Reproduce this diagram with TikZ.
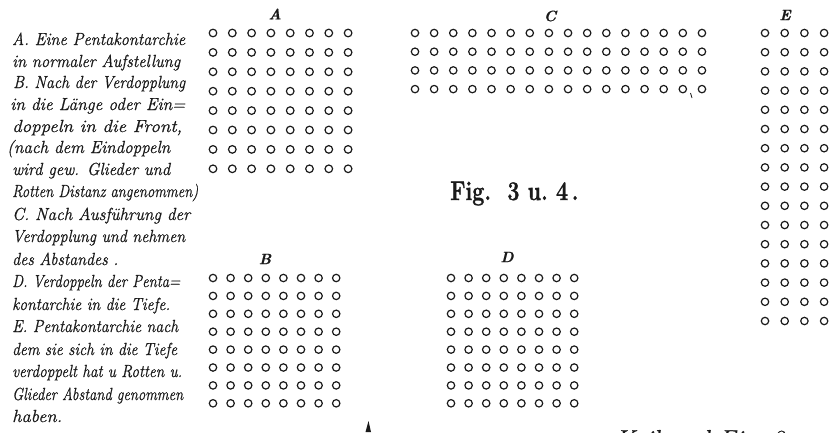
\documentclass[tikz,border=0pt]{standalone}
\usepackage{graphicx}
\usepackage{fontspec}
\newfontfamily\scr{Latin Modern Roman}[FakeBold=0.7]
\newfontfamily\figfont{Latin Modern Roman}[FakeBold=1.2]
\definecolor{ink}{HTML}{1A1A1A}
\newsavebox\fitbox
\newcommand\fitline[2]{\sbox\fitbox{#2}\pgfmathsetmacro\fitf{max(0.8,min(1.12,#1/\wd\fitbox))}\scalebox{\fitf}[1]{\usebox\fitbox}}
\tikzset{
  soldier/.style={draw=ink, line width=1.2pt},
  txt/.style={anchor=base west, inner sep=0pt, text=ink, font=\fontsize{17.5}{20}\scr\itshape},
  lbl/.style={inner sep=0pt, text=ink, font=\fontsize{15}{15}\scr\bfseries\itshape},
}
\begin{document}
\begin{tikzpicture}[x=1pt,y=-1pt]
\useasboundingbox (0,0) rectangle (832,432);
\fill[white] (0,0) rectangle (832,432);
% text block
\node[txt] (t1)  at (12,45)  {\fitline{173}{A. Eine Pentakontarchie}};
\node[txt] (t2)  at (12,67)  {\fitline{168}{in normaler Aufstellung}};
\node[txt] (t3)  at (13,88)  {\fitline{172}{B. Nach der Verdopplung}};
\node[txt] (t4)  at (10,110) {\fitline{175}{in die Länge oder Ein=}};
\node[txt] (t5)  at (12,132) {\fitline{170}{doppeln in die Front,}};
\node[txt] (t6)  at (7,153)  {\fitline{163}{(nach dem Eindoppeln}};
\node[txt] (t7)  at (12,175) {\fitline{158}{wird gew. Glieder und}};
\node[txt] (t8)  at (12,197) {\fitline{186}{Rotten Distanz angenommen)}};
\node[txt] (t9)  at (12,220) {\fitline{178}{C. Nach Ausführung der}};
\node[txt] (t10) at (12,242) {\fitline{173}{Verdopplung und nehmen}};
\node[txt] (t11) at (12,265) {\fitline{106}{des Abstandes .}};
\node[txt] (t12) at (12,287) {\fitline{168}{D. Verdoppeln der Penta=}};
\node[txt] (t13) at (12,310) {\fitline{158}{kontarchie in die Tiefe.}};
\node[txt] (t14) at (12,332) {\fitline{166}{E. Pentakontarchie nach}};
\node[txt] (t15) at (12,355) {\fitline{165}{dem sie sich in die Tiefe}};
\node[txt] (t16) at (12,377) {\fitline{170}{verdoppelt hat u Rotten u.}};
\node[txt] (t17) at (12,400) {\fitline{171}{Glieder Abstand genommen}};
\node[txt] (t18) at (12,422) {\fitline{50}{haben.}};
% labels
\node[lbl] (la) at (275,14) {A};
\node[lbl] (lb) at (265,259) {B};
\node[lbl] (lc) at (550,16) {C};
\node[lbl] (ld) at (507,257) {D};
\node[lbl] (le) at (785,15) {E};
% grids
\foreach \i in {0,...,7} \foreach \j in {0,...,7}
  \draw[soldier] ({213+\i*19.3},{33+\j*19.4}) circle[radius=3.8pt];
\foreach \i in {0,...,7} \foreach \j in {0,...,7}
  \draw[soldier] ({213+\i*17.6},{278+\j*17.9}) circle[radius=3.7pt];
\foreach \i in {0,...,15} \foreach \j in {0,...,3}
  \draw[soldier] ({415+\i*19.13},{33+\j*18.7}) circle[radius=3.7pt];
\foreach \i in {0,...,7} \foreach \j in {0,...,7}
  \draw[soldier] ({451+\i*17.6},{278+\j*17.9}) circle[radius=3.7pt];
\foreach \i in {0,...,3} \foreach \j in {0,...,15}
  \draw[soldier] ({765+\i*19.7},{33+\j*19.2}) circle[radius=3.7pt];
% title
\node[anchor=base west, inner sep=0pt, text=ink] (fig) at (450,200)
  {\fitline{122}{\fontsize{27}{27}\figfont\bfseries Fig.\ \ 3 u.\ 4\,.}};
% marks
\fill[ink] (365.5,432) -- (368.5,421) -- (371,432) -- cycle;
\draw[ink, line width=0.8pt] (690.5,93) -- (692,98);
% clipped bottom text
\begin{scope}
\clip (0,0) rectangle (832,432);
\node[anchor=base west, inner sep=0pt, text=ink, font=\fontsize{26}{26}\scr\itshape] (keil) at (615,448) {Keil und Fig.\ 2};
\end{scope}
\end{tikzpicture}
\end{document}
